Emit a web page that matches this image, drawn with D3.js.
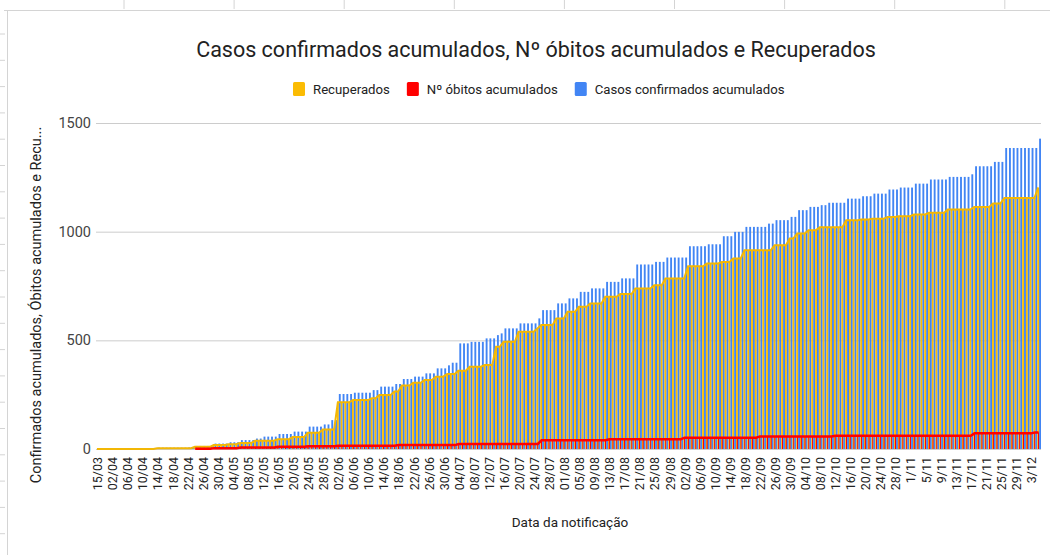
<!DOCTYPE html>
<html>
<head>
<meta charset="utf-8">
<script src="https://cdn.jsdelivr.net/npm/d3@7"></script>
<style>
  body { margin: 0; background: #fff; }
  svg { display: block; font-family: Roboto, Arial, sans-serif; }
</style>
</head>
<body>
<svg id="chart" width="1050" height="555"></svg>
<script>
// ---- data ----
const TITLE = "Casos confirmados acumulados, Nº óbitos acumulados e Recuperados";
const Y_TITLE = "Confirmados acumulados, Óbitos acumulados e Recu...";
const X_TITLE = "Data da notificação";
const SERIES = ["Recuperados", "Nº óbitos acumulados", "Casos confirmados acumulados"];
const COLORS = ["#fbbc04", "#ff0000", "#4285f4"];
const Y_TICKS = [0, 500, 1000, 1500];

// first rows of the sheet, then one row per day from 02/04 (31/05 missing)
const firstDays = ["15/03", "30/03", "31/03", "01/04"];
const dailyFrom = new Date(2020, 3, 2);
const dailyTo = new Date(2020, 11, 6);
const missingDays = ["31/05"];

const casos = [
  1,1,1,1,2,2,2,2,2,2,
  2,3,3,3,3,3,6,6,6,6,
  6,6,6,6,7,7,14,14,14,14,
  14,25,25,25,25,31,31,31,41,41,
  41,41,48,48,57,57,57,57,69,69,
  69,69,80,80,80,80,103,103,103,103,
  113,113,133,133,253,253,253,253,259,259,
  259,259,259,271,271,287,287,287,287,299,
  299,322,322,322,333,333,333,348,348,348,
  371,371,371,385,397,397,486,486,486,493,
  493,493,493,509,509,509,524,532,555,555,
  555,555,578,578,578,578,578,601,639,639,
  639,639,670,670,670,693,693,693,723,723,
  723,739,739,739,739,769,769,769,769,785,
  785,785,785,849,849,849,849,849,861,861,
  861,881,881,881,881,881,881,933,933,933,
  933,933,942,942,942,942,979,979,979,999,
  999,999,1022,1022,1022,1022,1022,1022,1037,1037,
  1053,1053,1053,1053,1068,1068,1099,1099,1099,1114,
  1114,1114,1122,1122,1133,1133,1133,1133,1133,1152,
  1152,1152,1152,1163,1163,1163,1175,1175,1175,1175,
  1194,1194,1194,1203,1203,1203,1203,1221,1221,1221,
  1221,1240,1240,1240,1240,1240,1252,1252,1252,1252,
  1252,1252,1264,1301,1301,1301,1301,1301,1321,1321,
  1321,1385,1385,1385,1385,1385,1385,1385,1385,1385,1428
];

const recuperados = [
  0,0,0,0,0,0,0,0,0,0,
  0,0,0,0,0,0,3,3,3,3,
  3,3,3,3,4,4,10,10,10,10,
  10,18,18,18,18,22,22,22,28,28,
  28,28,38,38,38,38,38,38,45,45,
  45,45,55,55,55,55,75,75,75,75,
  90,90,90,90,215,215,215,215,225,225,
  225,225,225,233,233,248,248,248,248,264,
  264,292,292,292,305,305,305,317,317,317,
  333,333,333,345,345,345,360,360,360,379,
  379,379,379,386,386,386,470,470,493,493,
  493,493,539,539,539,539,539,555,570,570,
  570,570,601,601,601,631,631,631,654,654,
  654,670,670,670,670,700,700,700,700,713,
  713,713,713,739,739,739,739,739,754,754,
  754,785,785,785,785,785,785,841,841,841,
  841,841,854,854,854,854,861,861,861,877,
  877,877,915,915,915,915,915,915,915,915,
  938,938,938,938,969,969,992,992,992,1007,
  1007,1007,1020,1020,1020,1020,1020,1020,1020,1053,
  1053,1053,1053,1056,1056,1056,1060,1060,1060,1060,
  1068,1068,1068,1071,1071,1071,1071,1079,1079,1079,
  1079,1087,1087,1087,1087,1087,1102,1102,1102,1102,
  1102,1102,1102,1114,1114,1114,1114,1114,1130,1130,
  1130,1155,1155,1155,1155,1155,1155,1155,1155,1155,1203
];

const obitos = [
  0,0,0,0,0,0,0,0,0,0,
  0,0,0,0,0,0,0,0,0,0,
  0,0,0,0,0,0,1,1,1,1,
  1,4,4,4,4,4,4,4,7,7,
  7,7,7,7,7,7,7,7,10,10,
  10,10,10,10,10,10,13,13,13,13,
  13,13,13,13,15,15,15,15,15,15,
  15,15,15,15,15,15,15,15,15,15,
  18,18,18,18,18,18,18,18,18,18,
  18,18,18,18,18,18,23,23,23,23,
  23,23,23,23,23,23,23,23,23,23,
  23,23,23,23,23,23,23,23,40,40,
  40,40,40,40,40,40,40,40,40,40,
  40,40,40,40,40,40,45,45,45,45,
  45,45,45,45,45,45,45,45,45,45,
  45,45,45,45,45,45,52,52,52,52,
  52,52,52,52,52,52,52,52,52,52,
  52,52,52,52,52,52,58,58,58,58,
  58,58,58,58,58,58,58,58,58,58,
  58,58,58,58,58,58,61,61,61,61,
  61,61,61,61,61,61,61,61,61,61,
  61,61,61,61,61,61,61,61,61,61,
  61,61,61,61,61,61,61,61,61,61,
  61,61,61,72,72,72,72,72,72,72,
  72,72,72,72,72,72,72,72,72,76,76
];

// ---- categories ----
const fmtDay = d => d.getMonth() >= 10 ? d3.timeFormat("%-d/%m")(d) : d3.timeFormat("%d/%m")(d);
const categories = firstDays.concat(
  d3.timeDay.range(dailyFrom, dailyTo).map(fmtDay).filter(s => !missingDays.includes(s))
);
const series = [recuperados, obitos, casos];
const rows = categories.map((c, i) => ({ date: c, values: series.map(s => s[i]) }));

// ---- layout ----
const svg = d3.select("#chart");
const W = 1050, H = 555;
const plot = { left: 96, right: 1041, top: 123, bottom: 449 };

// sheet frame behind the chart
const frame = svg.append("g").attr("stroke", "#d4d4d4").attr("fill", "none");
frame.append("path").attr("d", `M4,10.5H${W} M7.5,10.5V${H}`);
d3.range(34, H, 26.3).forEach(y => frame.append("line").attr("x1", 0).attr("x2", 5).attr("y1", y).attr("y2", y));
d3.range(124, W, 110.1).forEach(x => frame.append("line").attr("x1", x).attr("x2", x).attr("y1", 0).attr("y2", 9));

const x = d3.scaleBand().domain(categories).range([plot.left, plot.right]).padding(0);
// slot of each series inside a day's band (yellow and blue overlap the thin red one)
const inBand = d3.scaleLinear().domain([0, 1]).range([0, x.bandwidth()]);
const SLOTS = [[0, 0.5], [0.2, 0.5], [0.5, 1]];
const y = d3.scaleLinear().domain([0, 1500]).range([plot.bottom, plot.top]);

// title
svg.append("text")
  .attr("x", 536).attr("y", 57)
  .attr("text-anchor", "middle")
  .attr("font-size", 21.5)
  .attr("fill", "#222")
  .text(TITLE);

// legend
const legend = svg.append("g").attr("font-size", 13.2).attr("fill", "#222");
let lx = 293;
SERIES.forEach((s, i) => {
  legend.append("rect").attr("x", lx).attr("y", 82).attr("width", 12).attr("height", 14)
    .attr("rx", 1.5).attr("fill", COLORS[i]);
  const t = legend.append("text").attr("x", lx + 20).attr("y", 93.5).text(s);
  lx += 20 + t.node().getComputedTextLength() + 17;
});

// gridlines + y axis
const yAxis = svg.append("g")
  .attr("transform", `translate(${plot.left},0)`)
  .call(d3.axisLeft(y).tickValues(Y_TICKS).tickFormat(d3.format("d"))
    .tickSize(-(plot.right - plot.left)).tickPadding(5));
yAxis.select(".domain").remove();
yAxis.selectAll(".tick line").attr("stroke", "#cccccc");
yAxis.selectAll(".tick text").attr("font-size", 14.5).attr("fill", "#444").attr("font-family", "Roboto, Arial, sans-serif");

// bars
const groups = svg.append("g").selectAll("g")
  .data(rows)
  .enter()
  .append("g")
  .attr("transform", d => `translate(${x(d.date)},0)`);
groups.selectAll("rect")
  .data(d => d.values)
  .enter()
  .append("rect")
  .attr("x", (d, i) => inBand(SLOTS[i][0]))
  .attr("width", (d, i) => inBand(SLOTS[i][1]) - inBand(SLOTS[i][0]))
  .attr("y", d => y(d))
  .attr("height", d => y(0) - y(d))
  .attr("fill", (d, i) => COLORS[i]);

// tops of the yellow and red bars read as lines in the picture
const topLine = s => d3.line()
  .defined(d => s === 0 || d > 0)
  .x((d, i) => x(categories[i]) + inBand((SLOTS[s][0] + SLOTS[s][1]) / 2))
  .y(d => y(d));
svg.append("path").attr("d", topLine(0)(recuperados))
  .attr("fill", "none").attr("stroke", "#f2b705").attr("stroke-width", 2);
svg.append("path").attr("d", topLine(1)(obitos))
  .attr("fill", "none").attr("stroke", "#ff0000").attr("stroke-width", 2.5);

// x axis
const xAxis = svg.append("g")
  .attr("transform", `translate(0,${plot.bottom})`)
  .call(d3.axisBottom(x).tickValues(categories.filter((d, i) => i % 4 === 0)).tickSize(0).tickPadding(0));
xAxis.select(".domain").remove();
xAxis.selectAll(".tick text")
  .attr("font-size", 12.5)
  .attr("fill", "#222")
  .attr("font-family", "Roboto, Arial, sans-serif")
  .attr("text-anchor", "end")
  .attr("dy", "0.35em")
  .attr("transform", "translate(0,8) rotate(-90)")
  .attr("x", 0).attr("y", 0);

// axis titles
svg.append("text")
  .attr("x", 570).attr("y", 527)
  .attr("text-anchor", "middle")
  .attr("font-size", 13.5)
  .attr("fill", "#222")
  .text(X_TITLE);

svg.append("text")
  .attr("transform", "translate(41,305) rotate(-90)")
  .attr("text-anchor", "middle")
  .attr("font-size", 14.5)
  .attr("fill", "#222")
  .text(Y_TITLE);
</script>
</body>
</html>
